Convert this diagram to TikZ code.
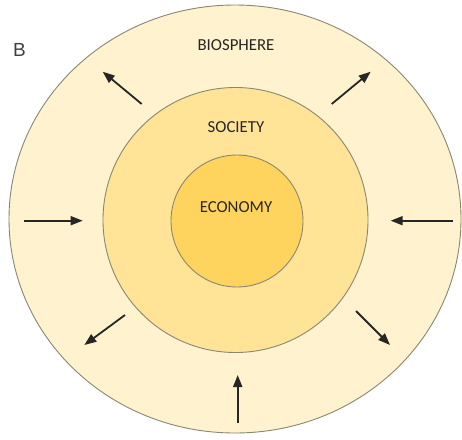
\documentclass[tikz,border=0pt]{standalone}
\usepackage{fontspec}
\setmainfont{Carlito}
\newfontfamily\labelfont{Liberation Sans}
\usetikzlibrary{arrows.meta,shapes.geometric}
\definecolor{bioFill}{RGB}{255,242,206}
\definecolor{socFill}{RGB}{255,228,152}
\definecolor{ecoFill}{RGB}{255,212,94}
\definecolor{ringLine}{RGB}{135,135,115}
\definecolor{txtGrey}{RGB}{38,38,38}
\tikzset{
  ring/.style={draw=ringLine, line width=0.9pt, inner sep=0pt},
  lbl/.style={text=txtGrey, font=\fontsize{16.8}{18}\selectfont, inner sep=0pt},
  flow/.style={line width=1.8pt, draw=black!85, -{Triangle[length=12pt,width=9pt]}}
}
\begin{document}
\begin{tikzpicture}[x=1pt,y=-1pt]
\useasboundingbox[fill=white] (0,0) rectangle (462,439);
\node[ring, ellipse, fill=bioFill, minimum width=452pt, minimum height=428pt] (bio) at (235,219) {};
\node[ring, circle, fill=socFill, minimum size=265pt] (soc) at (235.5,220) {};
\node[ring, circle, fill=ecoFill, minimum size=132pt] (eco) at (237,221) {};
\node[lbl] (tbio) at (236,45) {BIOSPHERE};
\node[lbl] (tsoc) at (236,127) {SOCIETY};
\node[lbl] (teco) at (236,207) {ECONOMY};
\node[text=black!75, font=\labelfont\fontsize{19}{21}\selectfont, inner sep=0pt] (lb) at (19.5,49.5) {B};
% arrow endpoints
\coordinate (a1s) at (141.7,104);   \coordinate (a1e) at (102.7,71.7);
\coordinate (a2s) at (331.7,104);   \coordinate (a2e) at (370.7,71.7);
\coordinate (a3s) at (24.3,220.7);  \coordinate (a3e) at (82.7,220.7);
\coordinate (a4s) at (452.7,220.7); \coordinate (a4e) at (390.7,220.7);
\coordinate (a5s) at (125,315);     \coordinate (a5e) at (84.3,345);
\coordinate (a6s) at (356,311);     \coordinate (a6e) at (390,345);
\coordinate (a7s) at (237.7,423.3); \coordinate (a7e) at (237.7,375);
\foreach \i in {1,...,7}{\draw[flow] (a\i s) -- (a\i e);}
\end{tikzpicture}
\end{document}
